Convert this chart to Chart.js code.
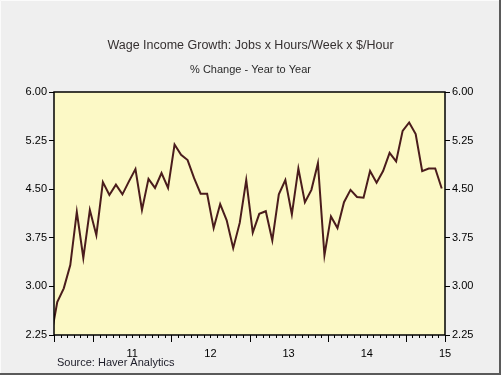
<!DOCTYPE html>
<html>
<head>
<meta charset="utf-8">
<script src="https://cdn.jsdelivr.net/npm/chart.js@4/dist/chart.umd.min.js"></script>
<style>
html,body{margin:0;padding:0;background:#efefef;}
canvas{display:block;}
</style>
</head>
<body>
<canvas id="wageChart" width="501" height="375"></canvas>
<script>
// monthly % change y/y, first value is the month before the axis start (clipped at the left edge)
const wageGrowth = [2.20,
  2.76, 2.97, 3.33, 4.15, 3.44, 4.18, 3.79, 4.61, 4.41, 4.57, 4.42, 4.62,
  4.81, 4.18, 4.66, 4.52, 4.75, 4.52, 5.19, 5.03, 4.95, 4.67, 4.43, 4.43,
  3.90, 4.27, 4.02, 3.59, 3.98, 4.64, 3.83, 4.12, 4.16, 3.71, 4.42, 4.64,
  4.11, 4.82, 4.30, 4.49, 4.90, 3.48, 4.08, 3.90, 4.30, 4.49, 4.38, 4.37,
  4.78, 4.60, 4.78, 5.06, 4.93, 5.40, 5.53, 5.35, 4.78, 4.82, 4.82, 4.51];
const yearLabels = ['11', '12', '13', '14', '15'];
const yearTickMonths = [12, 24, 36, 48, 60];
const yTicks = [2.25, 3.00, 3.75, 4.50, 5.25, 6.00];
const monthCount = 60;

const FONT = '"Liberation Sans", Arial, Helvetica, sans-serif';
const INK = '#000';

const points = wageGrowth.map((v, i) => ({ x: i - 0.5, y: v }));

const frame = {
  id: 'frame',
  beforeDatasetsDraw(chart) {
    const { ctx, chartArea: a } = chart;
    ctx.save(); ctx.fillStyle = '#fcf9c6'; ctx.fillRect(a.left, a.top, a.right - a.left, a.bottom - a.top); ctx.restore();
  },
  afterDatasetsDraw(chart) {
    const { ctx, chartArea: a } = chart, x = chart.scales.x;
    ctx.save();
    ctx.strokeStyle = INK; ctx.lineWidth = 1.5;
    ctx.strokeRect(a.left, a.top, a.right - a.left, a.bottom - a.top);
    // month ticks, tall ones at year boundaries
    ctx.lineWidth = 1;
    for (let m = 0; m <= monthCount; m++) {
      const px = Math.round(x.getPixelForValue(m)) + 0.5;
      const len = (m % 12 === 6 || m === 0 || m === monthCount) ? 7 : 3;
      ctx.beginPath(); ctx.moveTo(px, a.bottom); ctx.lineTo(px, a.bottom + len); ctx.stroke();
    }
    // source note
    ctx.fillStyle = '#1c1c28'; ctx.font = '11px ' + FONT; ctx.textBaseline = 'middle'; ctx.textAlign = 'left';
    ctx.fillText('Source: Haver Analytics', 57, 363);
    // outer bevel
    const W = chart.width, H = chart.height;
    ctx.strokeStyle = '#fbfbfb'; ctx.beginPath(); ctx.moveTo(0.5, H); ctx.lineTo(0.5, 0.5); ctx.lineTo(W, 0.5); ctx.stroke();
    ctx.strokeStyle = '#5a5a5a'; ctx.lineWidth = 2; ctx.beginPath(); ctx.moveTo(0, H - 1); ctx.lineTo(W - 1, H - 1); ctx.lineTo(W - 1, 0); ctx.stroke();
    ctx.restore();
  }
};

const yAxis = (pos, w) => ({
  type: 'linear', position: pos, min: 2.25, max: 6.00,
  afterBuildTicks: s => { s.ticks = yTicks.map(v => ({ value: v })); },
  afterFit: s => { s.width = w; },
  border: { display: false },
  grid: { drawOnChartArea: false, drawTicks: true, tickLength: 5, tickColor: INK, tickWidth: 1 },
  ticks: { color: INK, padding: 2, font: { size: 11, family: FONT }, callback: v => Number(v).toFixed(2) }
});

new Chart(document.getElementById('wageChart'), {
  type: 'line',
  data: { datasets: [{ data: points, borderColor: '#4a1c1c', borderWidth: 2, pointRadius: 0, tension: 0, fill: false }] },
  options: {
    responsive: false, animation: false, devicePixelRatio: 1,
    layout: { padding: 0 },
    plugins: {
      legend: { display: false }, tooltip: { enabled: false },
      title: { display: true, text: 'Wage Income Growth: Jobs x Hours/Week x $/Hour', color: '#353030', font: { size: 12.5, family: FONT, weight: 'normal' }, padding: { top: 38.5, bottom: 10 } },
      subtitle: { display: true, text: '% Change - Year to Year', color: '#2a2a2a', font: { size: 11, family: FONT }, padding: { top: 0, bottom: 15.3 } }
    },
    scales: {
      x: {
        type: 'linear', min: 0, max: monthCount,
        afterBuildTicks: s => { s.ticks = yearTickMonths.map(v => ({ value: v })); },
        afterFit: s => { s.height = 40; },
        border: { display: false }, grid: { display: false, drawTicks: false },
        ticks: { color: INK, padding: 12, maxRotation: 0, font: { size: 11, family: FONT }, callback: v => yearLabels[yearTickMonths.indexOf(v)] }
      },
      y: yAxis('left', 54),
      y2: yAxis('right', 56)
    }
  },
  plugins: [frame]
});
</script>
</body>
</html>
